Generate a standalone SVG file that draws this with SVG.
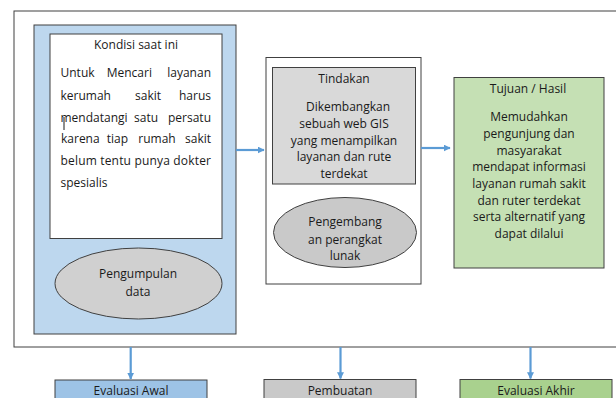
<svg xmlns="http://www.w3.org/2000/svg" width="616" height="398" viewBox="0 0 616 398">
<defs>
<marker id="ah" viewBox="0 0 10 10" refX="9" refY="5" markerWidth="7" markerHeight="7" orient="auto-start-reverse" markerUnits="userSpaceOnUse">
<path d="M0,0 L10,5 L0,10 z" fill="#5b9bd5"/>
</marker>
<style>
text{font-family:"Open Sans","Noto Sans",sans-serif;font-size:12px;fill:#1a1a1a}
.c{text-anchor:middle}
.e{text-anchor:end}
.b{stroke:#404040;stroke-width:1}
.conn line{stroke:#5b9bd5;stroke-width:2.2;marker-end:url(#ah)}
</style>
</defs>
<rect width="616" height="398" fill="#fff"/>
<g id="frame"><rect x="14" y="11" width="620" height="336" fill="none" class="b"/></g>

<g id="kondisi">
<rect x="34" y="25" width="202" height="309" fill="#bdd7ee" class="b"/>
<rect x="50" y="34" width="172" height="204.5" fill="#fff" class="b"/>
<text x="136" y="48.5" class="c">Kondisi saat ini</text>
<text x="60.5" y="77">Untuk</text>
<text x="106.7" y="77">Mencari</text>
<text x="211" y="77" class="e">layanan</text>
<text x="60.5" y="99.5">kerumah</text>
<text x="135" y="99.5">sakit</text>
<text x="211" y="99.5" class="e">harus</text>
<text x="60.5" y="121.5">mendatangi</text>
<text x="134" y="121.5">satu</text>
<text x="211" y="121.5" class="e">persatu</text>
<text x="61" y="142.5">karena</text>
<text x="106.7" y="142.5">tiap</text>
<text x="138.3" y="142.5">rumah</text>
<text x="211" y="142.5" class="e">sakit</text>
<text x="60.5" y="164.5" textLength="150.5" lengthAdjust="spacing">belum tentu punya dokter</text>
<text x="60.5" y="186.5">spesialis</text>
<line x1="64" y1="117" x2="64" y2="130" stroke="#1a1a1a" stroke-width="1"/>
</g>
<g id="pengumpulan">
<ellipse cx="138.5" cy="283.5" rx="83.5" ry="35.5" fill="#d0d0d0" class="b"/>
<text x="138" y="277.5" class="c">Pengumpulan</text>
<text x="138" y="296" class="c">data</text>
</g>

<g id="tindakan">
<rect x="266" y="57.5" width="155" height="226.5" fill="#fff" class="b"/>
<rect x="272.5" y="67.5" width="143" height="116.5" fill="#d9d9d9" class="b"/>
<text x="344" y="82.5" class="c">Tindakan</text>
<text x="348" y="111" class="c">Dikembangkan</text>
<text x="344" y="127.5" class="c">sebuah web GIS</text>
<text x="344" y="144.5" class="c">yang menampilkan</text>
<text x="344" y="161" class="c">layanan dan rute</text>
<text x="344" y="177.5" class="c">terdekat</text>
</g>
<g id="pengembangan">
<ellipse cx="345" cy="232.5" rx="71.5" ry="35" fill="#c9c9c9" class="b"/>
<text x="345" y="226" class="c">Pengembang</text>
<text x="345" y="244" class="c">an perangkat</text>
<text x="345" y="259.5" class="c">lunak</text>
</g>

<g id="tujuan">
<rect x="454" y="77.5" width="150" height="190.5" fill="#c5e0b4" class="b"/>
<text x="528" y="92.5" class="c">Tujuan / Hasil</text>
<text x="529" y="121" class="c">Memudahkan</text>
<text x="529" y="137.5" class="c">pengunjung dan</text>
<text x="529" y="154.5" class="c">masyarakat</text>
<text x="529" y="171" class="c">mendapat informasi</text>
<text x="529" y="187.5" class="c">layanan rumah sakit</text>
<text x="529" y="204.5" class="c">dan ruter terdekat</text>
<text x="529" y="221" class="c">serta alternatif yang</text>
<text x="529" y="237.5" class="c">dapat dilalui</text>
</g>

<g id="evaluasi-awal">
<rect x="55" y="380" width="152" height="30" fill="#9dc3e6" class="b"/>
<text x="131" y="394.5" class="c">Evaluasi Awal</text>
</g>
<g id="pembuatan">
<rect x="264" y="379.5" width="152" height="30" fill="#c9c9c9" class="b"/>
<text x="340" y="394.5" class="c">Pembuatan</text>
</g>
<g id="evaluasi-akhir">
<rect x="460" y="379.5" width="152" height="30" fill="#a9d18e" class="b"/>
<text x="536" y="394.5" class="c">Evaluasi Akhir</text>
</g>

<g id="connectors" class="conn">
<line x1="236" y1="150" x2="264" y2="150"/>
<line x1="421" y1="148" x2="450" y2="148"/>
<line x1="130.7" y1="347" x2="130.7" y2="379"/>
<line x1="340.5" y1="347" x2="340.5" y2="378.5"/>
<line x1="530.5" y1="347" x2="530.5" y2="378.5"/>
</g>
</svg>
